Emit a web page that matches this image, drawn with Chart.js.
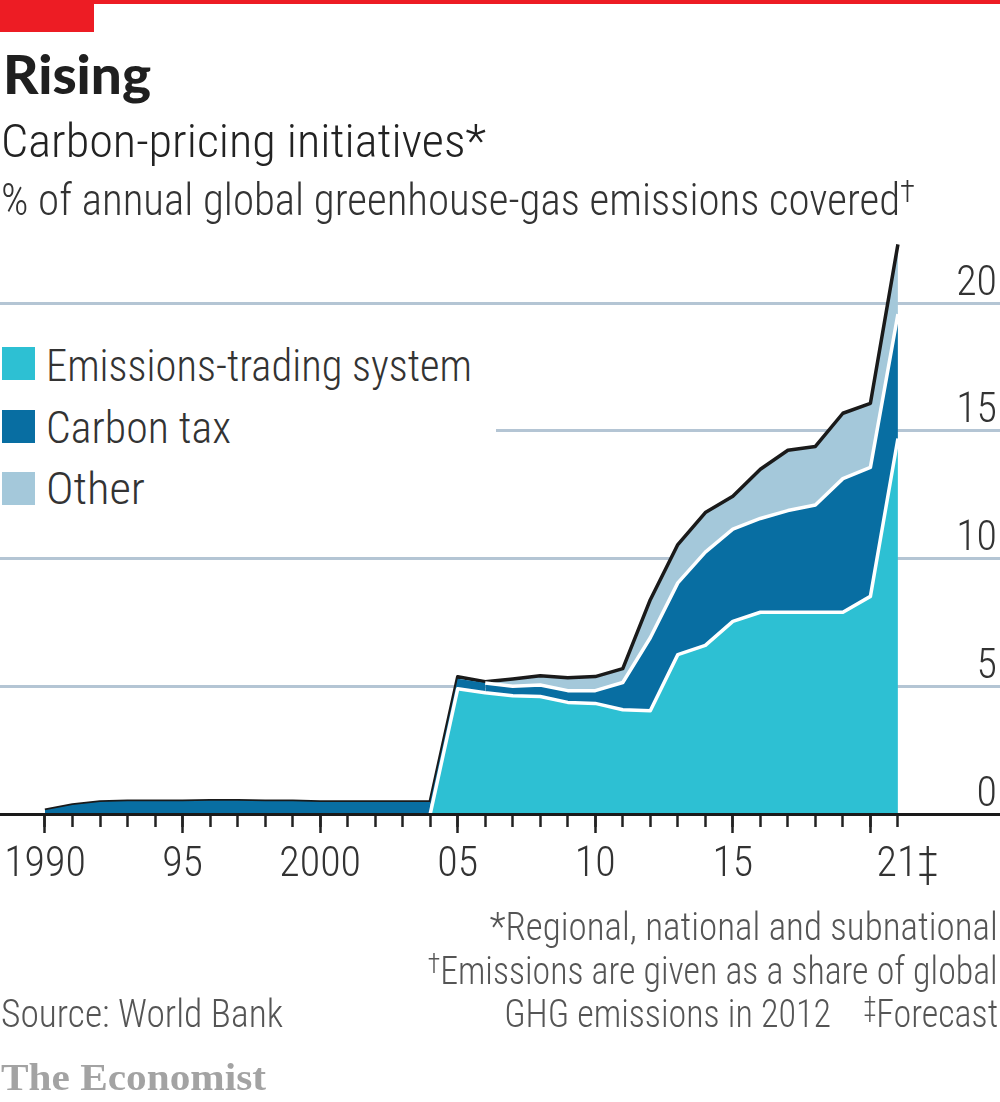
<!DOCTYPE html>
<html><head><meta charset="utf-8">
<script src="https://cdn.jsdelivr.net/npm/chart.js@4"></script>
<style>
html,body{margin:0;padding:0;background:#fff;}
#wrap{position:relative;width:1000px;height:1102px;overflow:hidden;background:#fff;color:#333;font-family:"Roboto Condensed","Roboto",sans-serif;font-weight:300;}
#wrap canvas{position:absolute;left:0;top:0;}
.t{position:absolute;white-space:nowrap;line-height:1;transform-origin:0 0;}
.r{position:absolute;white-space:nowrap;line-height:1;right:2px;transform-origin:100% 0;color:#555;}
sup{font-size:.72em;line-height:0;vertical-align:.42em;}
#legend{position:absolute;left:0;top:335px;width:496px;height:185px;background:#fff;}
.sw{position:absolute;left:2px;width:33px;height:33px;}
</style></head><body>
<div id="wrap">
<canvas id="c" width="1000" height="1102"></canvas>
<div style="position:absolute;left:0;top:0;width:1000px;height:4px;background:#ed1c24"></div>
<div style="position:absolute;left:0;top:0;width:94px;height:32px;background:#ed1c24"></div>
<div class="t" data-w="148" style="left:3px;top:47px;font:900 53px/1 'Lato',sans-serif;color:#1f1f1f;">Rising</div>
<div class="t" data-w="485" style="left:1px;top:118px;font-size:46px;color:#222;">Carbon-pricing initiatives*</div>
<div class="t" data-w="914" style="left:1px;top:178px;font-size:44px;color:#333;">% of annual global greenhouse-gas emissions covered<sup>†</sup></div>
<div id="legend"></div>
<div class="r" data-w="508" style="top:908px;font-size:38px;">*Regional, national and subnational</div>
<div class="r" data-w="570" style="top:952px;font-size:38px;"><sup>†</sup>Emissions are given as a share of global</div>
<div class="r" data-w="494" style="top:995px;font-size:38px;">GHG emissions in 2012 &nbsp; &nbsp;<sup>‡</sup>Forecast</div>
<div class="t" data-w="282" style="left:1px;top:995px;font-size:38px;color:#555;">Source: World Bank</div>
<div class="t" data-w="265" style="left:1px;top:1058px;font:bold 38px/1 'Liberation Serif',serif;color:#a3a3a3;">The Economist</div>
</div>
<script>
const years=[1990,1991,1992,1993,1994,1995,1996,1997,1998,1999,2000,2001,2002,2003,2004,2005,2006,2007,2008,2009,2010,2011,2012,2013,2014,2015,2016,2017,2018,2019,2020,2021];
const emissionsTrading=[0,0,0,0,0,0,0,0,0,0,0,0,0,0,0,4.9,4.75,4.63,4.6,4.37,4.33,4.08,4.04,6.24,6.6,7.54,7.9,7.9,7.9,7.9,8.52,14.7];
const carbonTax=[0.15,0.35,0.47,0.5,0.5,0.5,0.52,0.52,0.5,0.5,0.47,0.47,0.47,0.47,0.47,0.4,0.38,0.37,0.45,0.46,0.5,1.07,2.86,2.81,3.65,3.61,3.67,3.98,4.2,5.23,5.05,4.87];
const other=[0,0,0,0,0,0,0,0,0,0,0,0,0,0,0,0.07,0.05,0.29,0.36,0.5,0.55,0.54,1.49,1.5,1.55,1.29,1.93,2.36,2.29,2.56,2.51,2.73];
const seriesNames=["Emissions-trading system","Carbon tax","Other"];
const seriesColors=["#2dc0d3","#086ea2","#a4c8da"];
const legendWidths=[426,185,99];
const xLabelYears=[1990,1995,2000,2005,2010,2015,2021];
const xLabels=["1990","95","2000","05","10","15","\u00A0\u00A021‡"];
const yTicks=[0,5,10,15,20];

const lg=document.getElementById('legend');
seriesNames.forEach((n,i)=>{
  const top=12+i*62.5;
  lg.insertAdjacentHTML('beforeend',`<div class="sw" style="top:${top}px;background:${seriesColors[i]}"></div><div class="t" data-w="${legendWidths[i]}" style="left:46px;top:${9+i*61.5}px;font-size:44px;color:#333;">${n}</div>`);
});
function fit(){document.querySelectorAll('[data-w]').forEach(el=>{
  const w=el.getBoundingClientRect().width; el.style.transform=`scaleX(${(+el.dataset.w)/w})`;});}

const pts=a=>a.map((v,i)=>({x:years[i],y:v}));
const base={pointRadius:0,tension:0,borderJoinStyle:'round',borderCapStyle:'butt',clip:false};
const FONT='"Roboto Condensed","Roboto",sans-serif';
const draw=()=>{fit();new Chart(document.getElementById('c'),{
  type:'line',
  data:{datasets:[
    {...base,label:seriesNames[0],data:pts(emissionsTrading),backgroundColor:seriesColors[0],fill:'origin',borderWidth:3.5,borderColor:'#fff',
      segment:{borderColor:c=>c.p0.parsed.x>=2004?'#fff':'rgba(0,0,0,0)'}},
    {...base,label:seriesNames[1],data:pts(carbonTax),backgroundColor:seriesColors[1],fill:'-1',borderWidth:3.5,borderColor:'#fff',
      segment:{borderColor:c=>c.p0.parsed.x>=2006?'#fff':'rgba(0,0,0,0)'}},
    {...base,label:seriesNames[2],data:pts(other),backgroundColor:seriesColors[2],fill:'-1',borderWidth:3.5,borderColor:'#1a1a1a'}
  ]},
  options:{
    responsive:false,animation:false,
    layout:{padding:{top:201,left:0,right:0,bottom:0}},
    plugins:{legend:{display:false},tooltip:{enabled:false}},
    scales:{
      x:{type:'linear',position:'bottom',min:1988.365,max:2024.71,
        afterFit:s=>{s.height=288;},
        grid:{drawOnChartArea:false,drawTicks:true,tickLength:13,tickWidth:2.5,
          tickColor:c=>(c.tick&&c.tick.value>=1990&&c.tick.value<=2021)?'#222':'rgba(0,0,0,0)'},
        border:{display:true,color:'#1a1a1a',width:3,z:2},
        ticks:{stepSize:1,includeBounds:false,autoSkip:false,maxRotation:0,padding:13,
          color:'#333',font:{family:FONT,size:42,weight:'300'},
          callback:v=>{const i=xLabelYears.indexOf(v);return i>=0?xLabels[i]:'';}}
      },
      xMajor:{type:'linear',axis:'x',position:{y:0},min:1988.365,max:2024.71,
        grid:{drawOnChartArea:false,drawTicks:true,tickLength:19,tickWidth:2.5,tickColor:'#222'},
        border:{display:false},
        ticks:{stepSize:5,includeBounds:false,autoSkip:false,maxRotation:0,color:'rgba(0,0,0,0)',font:{size:1},callback:()=>''}
      },
      y:{type:'linear',position:'right',stacked:true,min:0,max:24,
        afterFit:s=>{s.width=0;},
        grid:{color:c=>c.tick.value===0?'rgba(0,0,0,0)':'#b4c5d4',lineWidth:3,drawTicks:false},
        border:{display:false},
        afterBuildTicks:s=>{s.ticks=yTicks.map(v=>({value:v}));},
        ticks:{mirror:true,padding:-3,labelOffset:-19,color:'#333',font:{family:FONT,size:42,weight:'300'},autoSkip:false,callback:v=>String(v)}
      }
    }
  }
});};
(document.fonts&&document.fonts.load?Promise.all([document.fonts.load('300 42px "Roboto Condensed"'),document.fonts.ready]):Promise.resolve()).then(draw,draw);
</script>
</body></html>
